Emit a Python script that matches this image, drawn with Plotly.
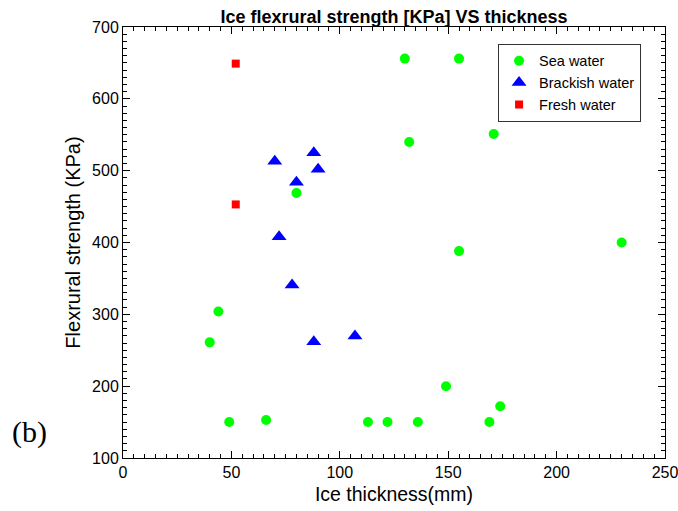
import plotly.graph_objects as go

sea_x = [130, 155, 171, 132, 80, 155, 230, 44, 40, 149, 49, 66, 113, 122, 136, 169, 174]
sea_y = [656, 656, 551, 540, 469, 388, 400, 304, 261, 200, 150, 153, 150, 150, 150, 150, 172]
brack_x = [70, 88, 80, 90, 72, 78, 88, 107]
brack_y = [513, 525, 484, 502, 408, 341, 262, 270]
fresh_x = [52, 52]
fresh_y = [649, 453]

FONT = "Liberation Sans, Arial, sans-serif"

fig = go.Figure()
fig.add_trace(go.Scatter(x=sea_x, y=sea_y, mode="markers", name="Sea water",
                         marker=dict(symbol="circle", size=10, color="#00ff00", line=dict(width=0))))
fig.add_trace(go.Scatter(x=brack_x, y=brack_y, mode="markers", name="Brackish water",
                         marker=dict(symbol="triangle-up", size=13, color="#0000ff", line=dict(width=0))))
fig.add_trace(go.Scatter(x=fresh_x, y=fresh_y, mode="markers", name="Fresh water",
                         marker=dict(symbol="square", size=8, color="#ff0000", line=dict(width=0))))

axis_common = dict(showgrid=False, zeroline=False, showline=True, linecolor="black", linewidth=1,
                   mirror="allticks", ticks="inside", ticklen=7, tickcolor="black", automargin=False,
                   ticklabeloverflow="allow",
                   tickfont=dict(family=FONT, size=16, color="black"))

fig.update_xaxes(range=[0, 250], dtick=50, tick0=0,
                 minor=dict(dtick=5, ticks="inside", ticklen=4, tickcolor="black"),
                 title=dict(text="Ice thickness(mm)", font=dict(family=FONT, size=19.5, color="black"), standoff=7),
                 **axis_common)
fig.update_yaxes(range=[100, 700], dtick=100, tick0=100,
                 minor=dict(dtick=10, ticks="inside", ticklen=4, tickcolor="black"),
                 title=dict(text="Flexrural strength (KPa)", font=dict(family=FONT, size=20, color="black"), standoff=6),
                 **axis_common)

fig.update_layout(
    width=678, height=511,
    margin=dict(l=123, r=13, t=27, b=53),
    paper_bgcolor="white", plot_bgcolor="white",
    title=dict(text="<b>Ice flexrural strength [KPa] VS thickness</b>",
               font=dict(family=FONT, size=18, color="black"),
               x=0.5, xref="paper", xanchor="center", y=1, yref="paper", yanchor="bottom", pad=dict(b=4)),
    legend=dict(x=0.692, y=0.961, xanchor="left", yanchor="top",
                bordercolor="#333333", borderwidth=1, bgcolor="white",
                font=dict(family=FONT, size=14.5, color="black"), itemwidth=30,
                tracegroupgap=0),
    showlegend=True,
    annotations=[dict(text="(b)", showarrow=False,
                      font=dict(family="Liberation Serif, Times New Roman, serif", size=30, color="black"))],
)
fig.layout.annotations[0].update(xref="paper", yref="paper",
                                 x=(29 - 123) / 542, y=(458 - 432) / 431, xanchor="center", yanchor="middle")

fig.write_html("out.html")
